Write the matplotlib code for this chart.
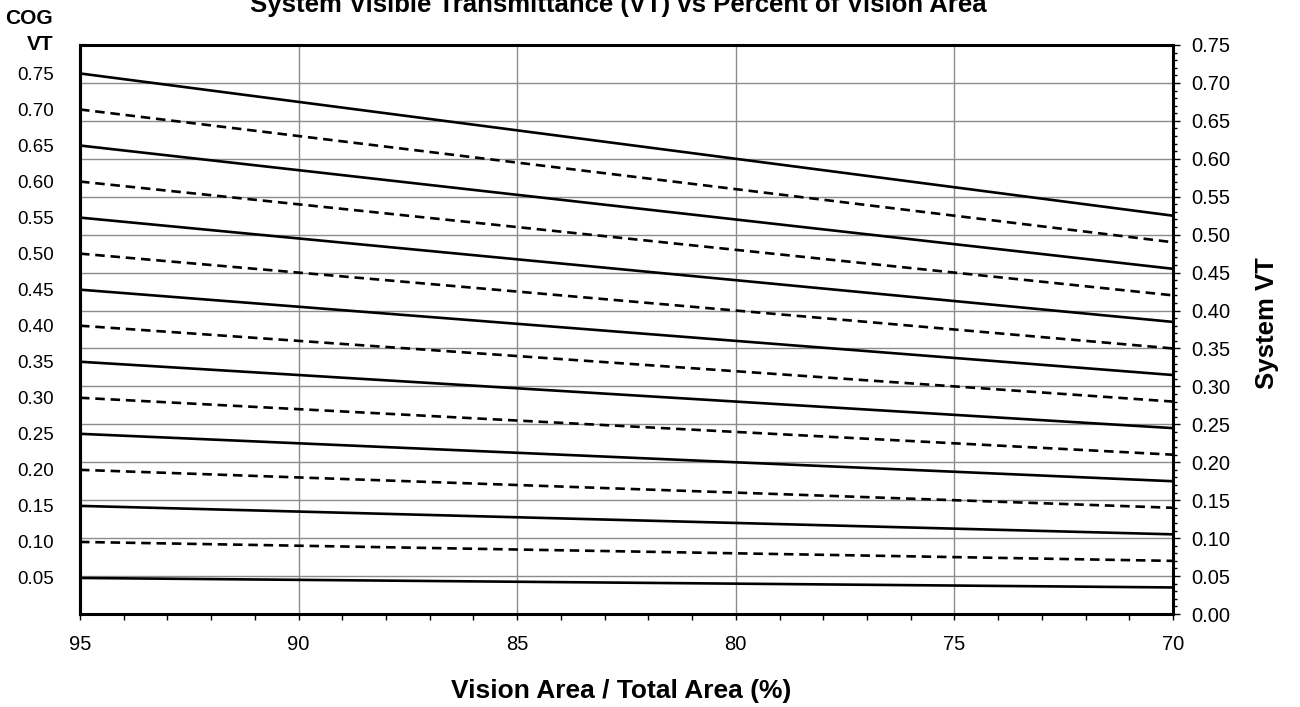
import numpy as np
import matplotlib.pyplot as plt
from matplotlib.ticker import MultipleLocator

plt.rcParams['font.family'] = ['Liberation Sans', 'DejaVu Sans']

# centre-of-glass VT values, one line each
cog_vt = [0.05, 0.10, 0.15, 0.20, 0.25, 0.30, 0.35, 0.40,
          0.45, 0.50, 0.55, 0.60, 0.65, 0.70, 0.75]
cog_labels = ["0.05", "0.10", "0.15", "0.20", "0.25", "0.30", "0.35", "0.40",
              "0.45", "0.50", "0.55", "0.60", "0.65", "0.70", "0.75"]
# vision area / total area (%) at both ends of the lines
vision_pct = [95, 70]
x_ticks = [95, 90, 85, 80, 75, 70]
sys_ticks = [0.00, 0.05, 0.10, 0.15, 0.20, 0.25, 0.30, 0.35,
             0.40, 0.45, 0.50, 0.55, 0.60, 0.65, 0.70, 0.75]

fig = plt.figure(figsize=(13, 7.07), dpi=100)
ax = fig.add_axes([80/1300, 1-614/707, (1173-80)/1300, (614-45)/707])

x = np.array(vision_pct, dtype=float)
for idx, cog in enumerate(cog_vt):
    y = cog * x / 100.0
    if idx % 2 == 0:
        ax.plot(x, y, color="black", linewidth=1.9, solid_capstyle="butt", zorder=3)
    else:
        ax.plot(x, y, color="black", linewidth=1.9, linestyle=(0, (3.6, 2.2)), zorder=3)

ax.set_xlim(95, 70)
ax.set_ylim(0, 0.75)

# x axis
ax.set_xticks(x_ticks)
ax.set_xticklabels([str(v) for v in x_ticks])
ax.xaxis.set_minor_locator(MultipleLocator(1))
ax.tick_params(axis="x", which="major", direction="out", length=4, width=1,
               labelsize=14.5, pad=11)
ax.tick_params(axis="x", which="minor", direction="out", length=4, width=1)

# right axis = system VT
ax.yaxis.tick_right()
ax.yaxis.set_label_position("right")
ax.set_yticks(sys_ticks)
ax.set_yticklabels(["%.2f" % v for v in sys_ticks])
ax.yaxis.set_minor_locator(MultipleLocator(0.01))
ax.tick_params(axis="y", which="major", direction="out", length=5, width=1,
               labelsize=14.5, pad=8)
ax.tick_params(axis="y", which="minor", direction="out", length=3, width=1)

ax.grid(True, which="major", color="#8c8c8c", linewidth=1.0, zorder=1)
ax.set_axisbelow(True)

for spine in ax.spines.values():
    spine.set_linewidth(2.2)
    spine.set_edgecolor("black")

# left axis labels = COG VT at 95 %
sec = ax.secondary_yaxis("left")
sec.set_yticks([c * 0.95 for c in cog_vt])
sec.set_yticklabels(cog_labels)
sec.tick_params(axis="y", length=0, labelsize=13.5, pad=19)
sec.spines["left"].set_linewidth(2.2)

fig.text(53/1300, 1-18/707, "COG", ha="right", va="center", fontsize=15, fontweight="bold")
fig.text(53/1300, 1-45/707, "VT", ha="right", va="center", fontsize=15, fontweight="bold")

fig.text(618/1300, 1-5/707, "System Visible Transmittance (VT) vs Percent of Vision Area",
         ha="center", va="center", fontsize=18.5, fontweight="bold")

fig.text(621/1300, 1-691/707, "Vision Area / Total Area (%)", ha="center", va="center",
         fontsize=19, fontweight="bold")
fig.text(1267/1300, 1-323/707, "System VT", ha="center", va="center", rotation=90,
         fontsize=18.5, fontweight="bold")

plt.savefig("out.png", dpi=100)
